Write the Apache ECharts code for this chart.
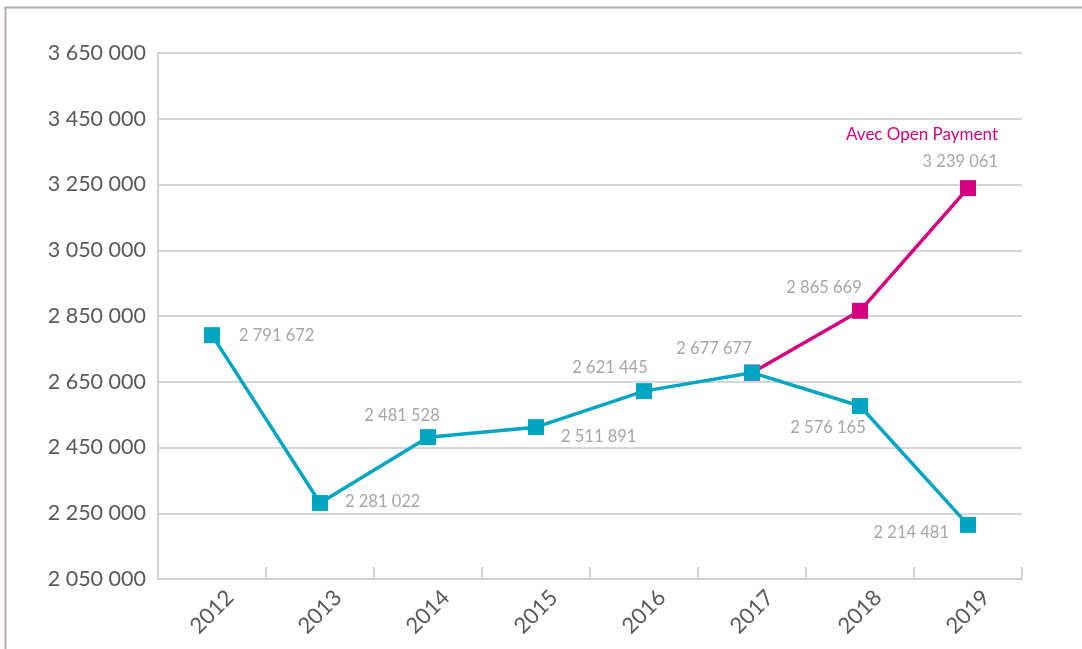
<!DOCTYPE html>
<html>
<head>
<meta charset="utf-8">
<script src="https://cdn.jsdelivr.net/npm/echarts@6/dist/echarts.min.js"></script>
<style>
  html, body { margin: 0; padding: 0; background: #fff; }
  #chart { width: 1082px; height: 649px; }
</style>
</head>
<body>
<div id="chart"></div>
<script>
// données
const years = ['2012', '2013', '2014', '2015', '2016', '2017', '2018', '2019']
const sansOpen = [2791672, 2281022, 2481528, 2511891, 2621445, 2677677, 2576165, 2214481]
const avecOpen = [null, null, null, null, null, 2677677, 2865669, 3239061]

// position de chaque étiquette [position, offset]
const tealLabelPos = [
  ['right', [14, 0]],
  ['right', [12, -1]],
  ['top', [-26, 0]],
  ['right', [12, 10]],
  ['top', [-34, -2]],
  ['top', [-38, -2]],
  ['bottom', [-32, 0]],
  ['left', [-6, 8]]
]
const magentaLabelPos = [null, null, null, null, null, null, ['top', [-36, -2]], ['top', [-46, 0]]]

const TEAL = '#00a5c1'
const MAGENTA = '#d5007f'
const GREY = '#a6a6a6'
const LABEL_SIZE = 16.5

const fmt = v => String(v).replace(/\B(?=(\d{3})+(?!\d))/g, ' ')

const chart = echarts.init(document.getElementById('chart'))

const tealData = sansOpen.map((v, i) => ({
  value: v,
  label: { show: true, position: tealLabelPos[i][0], offset: tealLabelPos[i][1] }
}))

const magentaData = avecOpen.map((v, i) => {
  if (v === null) return null
  if (!magentaLabelPos[i]) return { value: v, label: { show: false } }
  const item = {
    value: v,
    label: { show: true, position: magentaLabelPos[i][0], offset: magentaLabelPos[i][1] }
  }
  if (i === avecOpen.length - 1) {
    item.label.formatter = p => '{a|Avec Open Payment}\n{b|' + fmt(p.value) + '}'
    item.label.rich = {
      a: { color: MAGENTA, fontSize: 17, fontFamily: 'Lato', align: 'right', lineHeight: 27 },
      b: { color: GREY, fontSize: LABEL_SIZE, fontFamily: 'Lato', align: 'right', lineHeight: 27 }
    }
  }
  return item
})

const option = {
  backgroundColor: '#fff',
  animation: false,
  graphic: [{
    type: 'rect',
    shape: { x: 5.5, y: 7.5, width: 1200, height: 800 },
    style: { fill: 'none', stroke: '#b5a9b1', lineWidth: 2 },
    silent: true
  }],
  grid: { left: 158, right: 60, top: 53, bottom: 70 },
  xAxis: {
    type: 'category',
    data: years,
    boundaryGap: true,
    axisLine: { lineStyle: { color: '#d0d0d0', width: 2 } },
    axisTick: { show: true, inside: true, length: 12, lineStyle: { color: '#d0d0d0', width: 2 } },
    axisLabel: {
      rotate: 45,
      align: 'center',
      verticalAlign: 'middle',
      margin: 33,
      color: '#595959',
      fontSize: 22,
      fontFamily: 'Lato'
    },
    splitLine: { show: false }
  },
  yAxis: {
    type: 'value',
    min: 2050000,
    max: 3650000,
    interval: 200000,
    axisLine: { show: true, lineStyle: { color: '#d0d0d0', width: 2 } },
    axisTick: { show: false },
    axisLabel: {
      color: '#595959',
      fontSize: 21.5,
      fontFamily: 'Lato',
      margin: 12,
      formatter: v => fmt(v)
    },
    splitLine: { lineStyle: { color: '#d6d6d6', width: 2 } }
  },
  series: [
    {
      name: 'Sans Open Payment',
      type: 'line',
      data: tealData,
      symbol: 'rect',
      symbolSize: 16,
      lineStyle: { color: TEAL, width: 3.5 },
      itemStyle: { color: TEAL },
      label: { color: GREY, fontSize: LABEL_SIZE, fontFamily: 'Lato', formatter: p => fmt(p.value) },
      z: 3
    },
    {
      name: 'Avec Open Payment',
      type: 'line',
      data: magentaData,
      symbol: 'rect',
      symbolSize: 16,
      showSymbol: true,
      lineStyle: { color: MAGENTA, width: 3.5 },
      itemStyle: { color: MAGENTA },
      label: { color: GREY, fontSize: LABEL_SIZE, fontFamily: 'Lato', formatter: p => fmt(p.value) },
      z: 2
    }
  ]
}

chart.setOption(option)
</script>
</body>
</html>
